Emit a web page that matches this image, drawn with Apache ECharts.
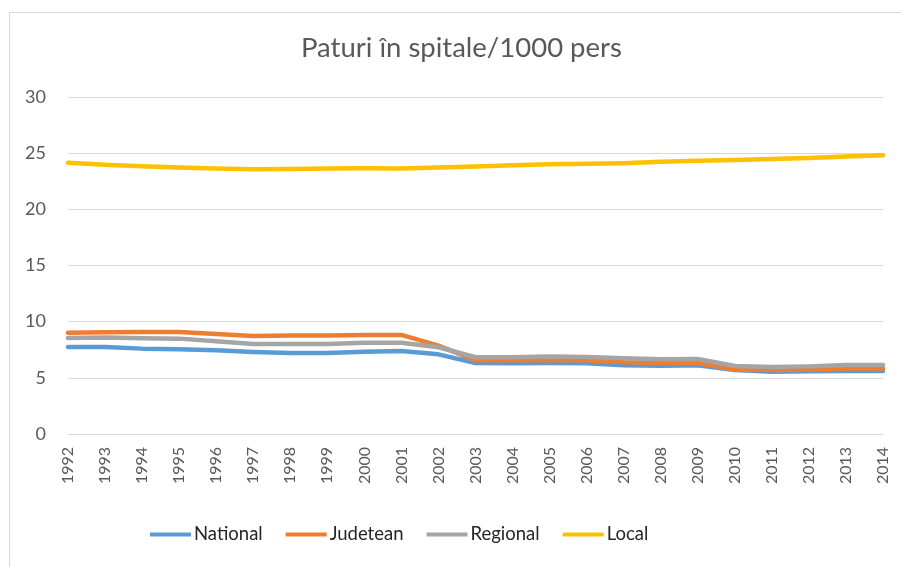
<!DOCTYPE html>
<html>
<head>
<meta charset="utf-8">
<script src="https://cdn.jsdelivr.net/npm/echarts@6/dist/echarts.min.js"></script>
<style>
html,body{margin:0;padding:0;background:#fff;}
#chart{width:901px;height:567px;}
</style>
</head>
<body>
<div id="chart"></div>
<script>
const titleText = 'Paturi în spitale/1000 pers';
const years = ['1992','1993','1994','1995','1996','1997','1998','1999','2000','2001','2002','2003','2004','2005','2006','2007','2008','2009','2010','2011','2012','2013','2014'];
const seriesNames = ['National','Judetean','Regional','Local'];
const national = [7.75,7.75,7.6,7.54,7.45,7.3,7.21,7.21,7.33,7.39,7.09,6.32,6.3,6.32,6.3,6.11,6.08,6.11,5.7,5.55,5.58,5.6,5.6];
const judetean = [9.02,9.05,9.08,9.08,8.9,8.73,8.76,8.76,8.82,8.82,7.86,6.56,6.56,6.56,6.56,6.38,6.32,6.32,5.73,5.7,5.73,5.82,5.82];
const regional = [8.55,8.58,8.52,8.49,8.25,8.01,8.01,8.01,8.13,8.13,7.72,6.83,6.83,6.89,6.86,6.74,6.65,6.68,6.05,5.96,6.02,6.14,6.14];
const local = [24.14,23.96,23.84,23.72,23.63,23.57,23.6,23.63,23.66,23.63,23.72,23.82,23.93,24.02,24.05,24.11,24.23,24.32,24.4,24.49,24.58,24.7,24.82];
const yTicks = {min:0, max:30, interval:5};
const colors = ['#5B9BD5','#ED7D31','#A5A5A5','#FFC000'];
const dataSets = [national, judetean, regional, local];

const FONT = 'Lato, "Open Sans", sans-serif';
const chart = echarts.init(document.getElementById('chart'), null, {renderer:'canvas'});
chart.setOption({
  animation:false,
  color: colors,
  graphic:[{
    type:'rect', left:7, top:10, silent:true, z:-10,
    shape:{x:0.5,y:0.5,width:1000,height:1000},
    style:{fill:'none', stroke:'#d9d9d9', lineWidth:1}
  }],
  title:{
    text:titleText, left:296, top:29,
    textStyle:{fontFamily:FONT, fontSize:27.5, fontWeight:'normal', color:'#595959'}
  },
  legend:{
    data:seriesNames, bottom:18, left:145,
    icon:'rect', itemWidth:41, itemHeight:4, itemGap:23,
    textStyle:{fontFamily:FONT, fontSize:18.5, color:'#262626', padding:[0,0,0,-2]}
  },
  grid:{left:68, right:18, top:97, bottom:133, containLabel:false},
  xAxis:{
    type:'category', data:years, boundaryGap:false,
    axisTick:{show:false},
    axisLine:{show:true, lineStyle:{color:'#d9d9d9', width:1}},
    axisLabel:{rotate:90, margin:13, fontFamily:FONT, fontSize:16, color:'#595959', interval:0}
  },
  yAxis:{
    type:'value', min:yTicks.min, max:yTicks.max, interval:yTicks.interval,
    axisLine:{show:false}, axisTick:{show:false},
    splitLine:{lineStyle:{color:'#d9d9d9', width:1}},
    axisLabel:{margin:22, fontFamily:FONT, fontSize:18, color:'#595959'}
  },
  series: seriesNames.map((n,i)=>({
    name:n, type:'line', data:dataSets[i], showSymbol:false, symbol:'none',
    lineStyle:{width:4.5, cap:'round', join:'round', color:colors[i]},
    itemStyle:{color:colors[i]}
  }))
});
</script>
</body>
</html>
